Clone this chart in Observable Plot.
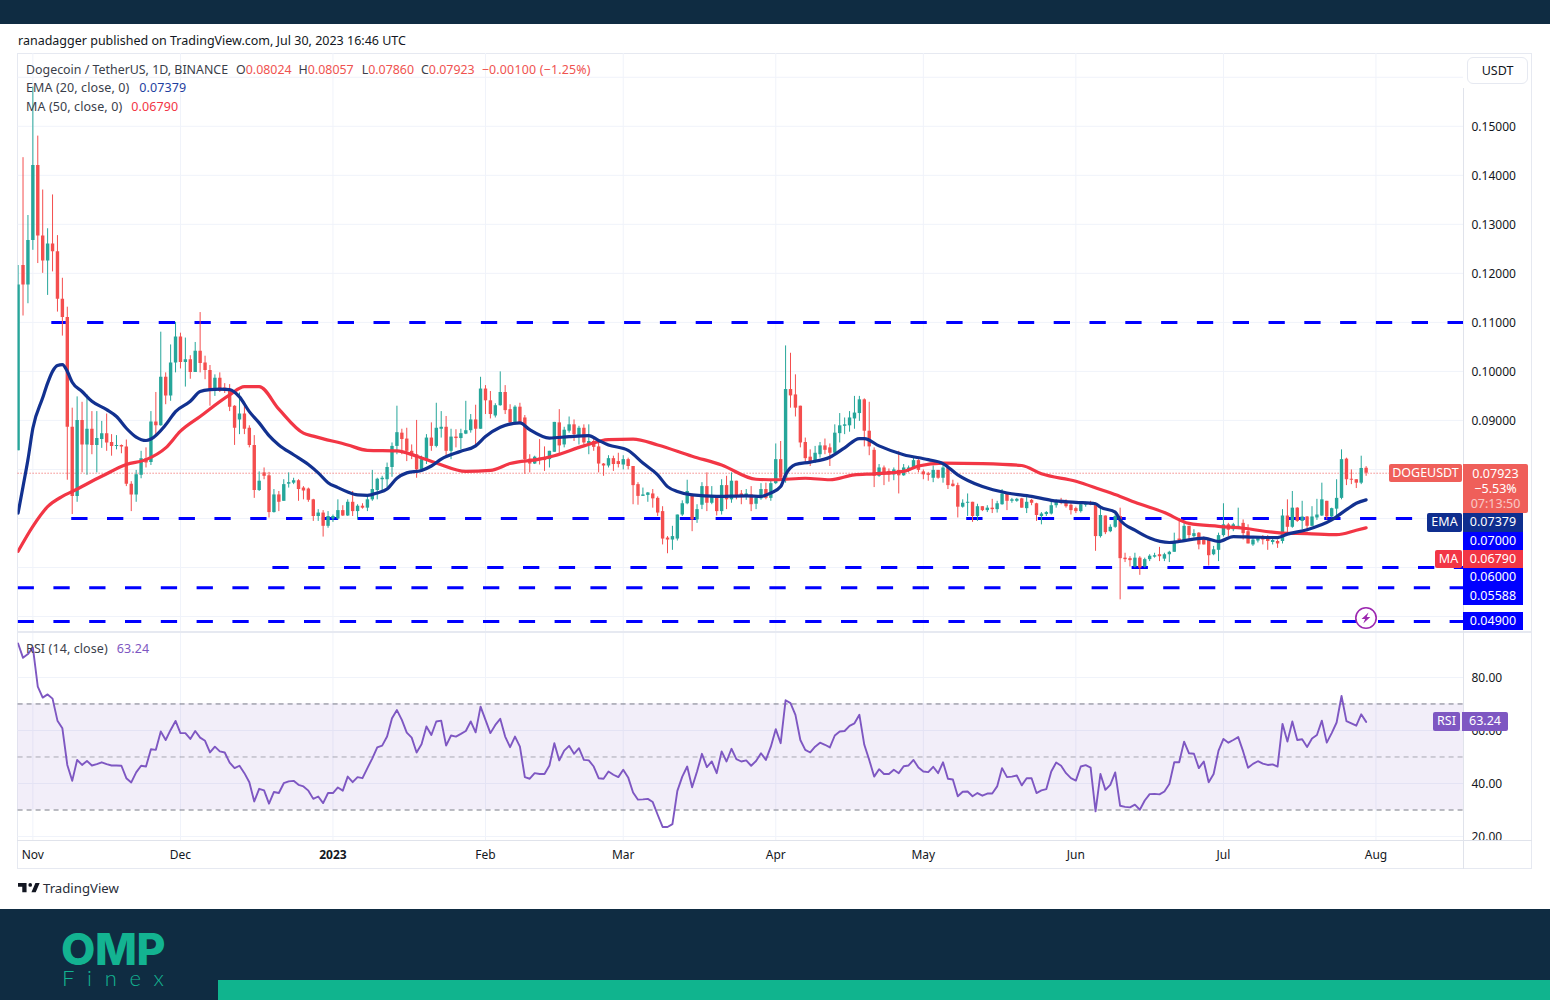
<!DOCTYPE html>
<html><head><meta charset="utf-8">
<script src="https://cdn.jsdelivr.net/npm/d3@7"></script>
<script src="https://cdn.jsdelivr.net/npm/@observablehq/plot@0.6"></script>
<style>
html,body{margin:0;padding:0;background:#fff}
#page{position:relative;width:1550px;height:1000px;overflow:hidden;background:#fff;font-family:"Noto Sans",sans-serif;color:#131722}
.abs{position:absolute;white-space:nowrap}
.tag{position:absolute;color:#fff;font-size:12.5px;line-height:1;display:flex;align-items:center;justify-content:center;white-space:nowrap}
.leg{position:absolute;left:26px;font-size:12.5px;letter-spacing:.1px;line-height:16px;white-space:nowrap;color:#3a3e4a}
.leg span{margin-left:7px}
.r{color:#ef5350}
.leg span.n{margin-left:0}
svg{display:block}
#price,#rsi,#time{position:absolute;left:0}
</style></head>
<body><div id="page">
<div class="abs" style="left:0;top:0;width:1550px;height:24px;background:#0f2c42"></div>
<div class="abs" style="left:18px;top:33px;font-size:12.5px;line-height:16px" id="pub">ranadagger published on TradingView.com, Jul 30, 2023 16:46 UTC</div>
<div class="abs" style="left:17px;top:53px;width:1515px;height:816px;border:1px solid #e6e9f1;box-sizing:border-box"></div>
<div id="price" style="top:53px"></div>
<div id="rsi" style="top:632px"></div>
<div id="time" style="top:841px"></div>
<div class="abs" style="left:17px;top:631px;width:1515px;height:2px;background:#e6e9f1"></div>
<div class="abs" style="left:17px;top:840px;width:1515px;height:1px;background:#e0e3eb"></div>
<div class="abs" style="left:1463px;top:88px;width:1px;height:781px;background:#e0e3eb"></div>
<div class="abs" style="left:1467px;top:57px;width:61px;height:27px;border:1px solid #e6e9f1;border-radius:6px;box-sizing:border-box;font-size:12.5px;line-height:25px;text-align:center;background:#fff">USDT</div>
<div class="leg" style="top:62px;font-size:12.4px;letter-spacing:0">Dogecoin / TetherUS, 1D, BINANCE<span style="margin-left:8px">O</span><span class="r n">0.08024</span><span style="margin-left:7px">H</span><span class="r n">0.08057</span><span style="margin-left:8px">L</span><span class="r n">0.07860</span><span style="margin-left:7px">C</span><span class="r n">0.07923</span><span class="r" style="margin-left:7px;letter-spacing:.2px">−0.00100 (−1.25%)</span></div>
<div class="leg" style="top:80px">EMA (20, close, 0)<span style="color:#1f3f9f;margin-left:10px">0.07379</span></div>
<div class="leg" style="top:99px">MA (50, close, 0)<span style="color:#f23645;margin-left:9px">0.06790</span></div>
<div class="leg" style="top:641px">RSI (14, close)<span style="color:#7e57c2;margin-left:9px">63.24</span></div>

<div class="tag" style="left:1389px;top:464px;width:73px;height:18px;background:#ef5f5a;border-radius:2px">DOGEUSDT</div>
<div class="tag" style="left:1463px;top:464px;width:65px;height:49px;background:#ef5f5a;border-radius:0 2px 2px 0;flex-direction:column;line-height:15px"><span>0.07923</span><span>−5.53%</span><span style="opacity:.65">07:13:50</span></div>
<div class="tag" style="left:1427px;top:513px;width:35px;height:19px;background:#0f2e8f;border-radius:2px">EMA</div>
<div class="tag" style="left:1463px;top:513px;width:60px;height:19px;background:#0f2e8f">0.07379</div>
<div class="tag" style="left:1463px;top:532px;width:60px;height:18px;background:#0000ff">0.07000</div>
<div class="tag" style="left:1435px;top:550px;width:27px;height:18px;background:#f23645;border-radius:2px">MA</div>
<div class="tag" style="left:1463px;top:550px;width:60px;height:18px;background:#f23645">0.06790</div>
<div class="tag" style="left:1463px;top:568px;width:60px;height:19px;background:#0000ff">0.06000</div>
<div class="tag" style="left:1463px;top:587px;width:60px;height:18px;background:#0000ff">0.05588</div>
<div class="tag" style="left:1463px;top:612px;width:60px;height:18px;background:#0000ff">0.04900</div>
<div class="tag" style="left:1433px;top:712px;width:27px;height:19px;background:#7e57c2;border-radius:2px">RSI</div>
<div class="tag" style="left:1462px;top:712px;width:46px;height:19px;background:#7e57c2;border-radius:0 2px 2px 0">63.24</div>

<svg class="abs" style="left:1354px;top:606px" width="24" height="24" viewBox="0 0 24 24"><circle cx="12" cy="12" r="10.2" fill="#fff" stroke="#9c27b0" stroke-width="1.6"/><path d="M14.5 6.5 7.5 13h3.6l-1.8 4.5 7-6.5h-3.6z" fill="#9c27b0"/></svg>

<svg class="abs" style="left:18px;top:882px" width="22" height="12" viewBox="0 6 36 16"><path fill="#131722" d="M14 6H0v6h7v9h7V6zm15 15h-7l6.5-15h7L29 21zm-9-9a3 3 0 100-6 3 3 0 000 6z"/></svg>
<div class="abs" style="left:43px;top:879px;font-size:13.2px;line-height:18px;color:#2a2e39">TradingView</div>

<div class="abs" style="left:0;top:909px;width:1550px;height:91px;background:#0f2c42"></div>
<div class="abs" style="left:218px;top:980px;width:1332px;height:20px;background:#10b48e"></div>
<div class="abs" style="left:61px;top:925px;font-family:Inter,sans-serif;font-weight:800;font-size:44.5px;line-height:48px;color:#13b391;letter-spacing:-.5px">OMP</div>
<div class="abs" style="left:62px;top:964px;font-family:Lato,sans-serif;font-weight:300;font-size:22px;line-height:28px;color:#13b391;letter-spacing:12.7px">Finex</div>
</div>
<script>
const FONT='"Noto Sans",sans-serif';
const opens=[.0838,.1216,.1176,.1267,.142,.1276,.1225,.126,.1244,.1147,
.111,.0886,.0745,.09,.085,.0882,.0849,.0861,.0873,.0855,
.0847,.0849,.0846,.077,.0748,.0788,.0822,.0814,.0897,.0889,
.0988,.095,.1017,.107,.1018,.1024,.0998,.1041,.1017,.1002,
.0959,.0986,.0966,.0963,.0929,.0901,.0913,.0884,.0849,.0757,
.0793,.0787,.0712,.0748,.0735,.077,.0772,.0777,.0762,.076,
.0738,.0704,.0711,.0684,.0699,.0699,.0716,.0705,.0733,.0714,
.0725,.0721,.0738,.0757,.0779,.0779,.0804,.0847,.0874,.0862,
.0837,.083,.0799,.082,.0864,.0847,.0882,.0886,.0837,.0866,
.0863,.0872,.0879,.0901,.0882,.0964,.094,.0909,.093,.0957,
.0922,.0896,.0927,.0905,.0821,.0811,.0823,.0821,.082,.0835,
.0895,.085,.0878,.0891,.0869,.0884,.0852,.0857,.0846,.0811,
.0807,.0822,.0816,.0809,.082,.0806,.0769,.0745,.0747,.075,
.0741,.0714,.066,.0656,.0658,.0707,.073,.0748,.0697,.0727,
.0765,.0731,.0746,.0714,.0767,.0738,.0776,.075,.0745,.0748,
.0729,.074,.0759,.0741,.0771,.082,.0782,.0963,.0952,.0929,
.0855,.0825,.0814,.083,.0848,.0844,.0833,.0873,.0888,.0889,
.0903,.0914,.0942,.0878,.0839,.0786,.0803,.0796,.0789,.0798,
.0787,.0796,.0803,.0818,.0795,.0791,.0782,.0798,.0782,.0803,
.077,.0767,.0723,.0731,.0733,.0704,.0724,.0716,.0721,.0718,
.0728,.075,.0735,.0735,.074,.072,.0737,.073,.0704,.0708,
.0709,.0726,.0736,.0733,.0727,.072,.0714,.0727,.0731,.0727,
.0663,.0705,.0673,.0682,.0704,.0619,.0618,.0601,.0619,.0601,
.0616,.0621,.0626,.0617,.0626,.0631,.0658,.0653,.0684,.0663,
.067,.0658,.0656,.0626,.0635,.0665,.0687,.0677,.0682,.069,
.0673,.0646,.0654,.0662,.0663,.0651,.0653,.0653,.0705,.0682,
.0721,.0694,.0703,.0684,.0701,.0705,.0735,.0703,.0719,.0741,
.0821,.078,.0779,.0772,.08024];
const highs=[.1216,.1436,.1318,.158,.148,.137,.1291,.136,.1277,.119,
.1131,.0925,.0948,.0937,.0952,.0918,.0918,.0898,.0913,.0871,
.0869,.085,.086,.0775,.0798,.0837,.0844,.0918,.0957,.108,
.0997,.1054,.11,.1078,.1068,.1032,.1059,.112,.1031,.1012,
.0993,.0997,.0975,.0973,.093,.0956,.0929,.0889,.0869,.0795,
.0803,.0794,.0759,.0755,.0779,.0793,.0782,.0779,.0765,.0762,
.0739,.0718,.0716,.0714,.0707,.0738,.0726,.0738,.0755,.0728,
.073,.0745,.0798,.0782,.0786,.0813,.0854,.0929,.0882,.0884,
.085,.09,.0827,.0871,.0895,.0935,.0918,.0908,.0882,.0881,
.0882,.0939,.0912,.0931,.0988,.0971,.0959,.0934,.0999,.0971,
.0932,.093,.0935,.091,.083,.0827,.0861,.0846,.0837,.0896,
.0922,.0886,.0907,.0901,.0888,.0891,.0891,.0866,.0854,.0812,
.0828,.0827,.0833,.0828,.0823,.0806,.0773,.0762,.0753,.0759,
.0744,.0724,.0663,.0684,.0707,.0736,.0778,.075,.0728,.0773,
.0793,.0765,.0746,.0779,.0786,.0793,.0776,.0757,.0759,.0765,
.0745,.0771,.0772,.0779,.0852,.0857,.1052,.1037,.0993,.0929,
.0864,.084,.0847,.0855,.0862,.0852,.0891,.0914,.0905,.0918,
.0949,.0949,.0944,.0937,.0844,.081,.0807,.0801,.0803,.0837,
.081,.0807,.0823,.082,.0799,.0794,.0807,.0798,.0814,.0803,
.0778,.0772,.0738,.075,.0733,.0729,.0724,.0726,.0739,.0735,
.0759,.0752,.0741,.0741,.0741,.0744,.0739,.0731,.0712,.0714,
.0738,.0738,.0741,.0738,.073,.0723,.0733,.0733,.0735,.0731,
.0721,.0705,.0687,.0714,.0721,.0629,.0622,.0629,.0622,.0619,
.0626,.0629,.0641,.0629,.0633,.067,.07,.069,.0684,.0677,
.0671,.0662,.066,.0643,.067,.073,.069,.069,.0721,.0697,
.0687,.066,.0663,.0665,.0665,.066,.0656,.0718,.0738,.0755,
.0722,.0735,.0704,.0724,.0739,.0772,.0735,.0721,.0779,.084,
.0823,.0799,.0779,.0827,.08057];
const lows=[.0838,.1113,.1138,.1247,.122,.12,.1155,.1203,.1121,.1072,
.0778,.0708,.0733,.0793,.0788,.083,.0793,.0843,.0837,.0827,
.084,.0832,.0765,.0714,.0733,.0781,.0803,.0808,.0871,.0888,
.0932,.0939,.0997,.1005,.0968,.0984,.0998,.0997,.0983,.0929,
.0949,.0957,.0955,.0918,.0849,.0871,.0871,.0844,.0741,.0755,
.0779,.0701,.0711,.0714,.0735,.0762,.0769,.0735,.0738,.0733,
.0694,.0694,.0662,.068,.0692,.0697,.0704,.0704,.0704,.0697,
.0719,.0714,.0735,.0738,.0755,.0762,.0784,.083,.083,.0816,
.082,.0782,.0796,.081,.0837,.0844,.0864,.0823,.082,.0844,
.084,.0871,.0874,.0847,.0882,.0912,.0903,.0905,.0929,.0912,
.0891,.0895,.0891,.079,.0793,.081,.0809,.0796,.0803,.0835,
.083,.0844,.0874,.0857,.085,.085,.083,.0837,.0793,.0786,
.0803,.0796,.0803,.0799,.0799,.0728,.0727,.0745,.0733,.0721,
.0704,.0646,.0628,.0635,.0654,.0704,.0728,.0673,.069,.0718,
.0714,.0728,.0705,.0707,.0718,.0731,.0738,.0728,.0737,.0714,
.0718,.0737,.0738,.0735,.0769,.0778,.0772,.0925,.0907,.0844,
.0814,.0806,.0812,.0823,.083,.0806,.083,.0854,.0871,.0876,
.0882,.0898,.0846,.0828,.0763,.0784,.0767,.0774,.0777,.075,
.0786,.0793,.0801,.0793,.0779,.0776,.0773,.078,.0772,.0759,
.0764,.0701,.0721,.0704,.0692,.0694,.0714,.0712,.071,.0711,
.0727,.0716,.0731,.0733,.0721,.071,.0726,.0694,.0687,.0704,
.0707,.0721,.0728,.0721,.0707,.071,.0711,.0723,.0726,.0633,
.066,.0667,.0671,.068,.0534,.061,.0601,.0599,.0584,.0599,
.0612,.0619,.0612,.0612,.061,.0631,.0653,.0653,.0653,.066,
.0636,.0646,.0603,.0624,.0612,.0662,.0663,.0673,.068,.0656,
.0648,.0643,.065,.0646,.0635,.0646,.0639,.0648,.067,.068,
.0692,.0677,.0673,.0684,.0696,.0704,.0697,.0701,.0704,.0738,
.0767,.0769,.0761,.0769,.0786];
const closes=[.1176,.1176,.1267,.142,.1276,.1225,.126,.1244,.1147,.111,
.0886,.0745,.09,.085,.0882,.0849,.0863,.0873,.0854,.0847,
.0849,.0846,.077,.0748,.0789,.0822,.0813,.0897,.0889,.0988,
.095,.1017,.107,.1018,.1024,.0998,.1041,.1016,.1002,.0959,
.0986,.0959,.0961,.0927,.0884,.0913,.0882,.0849,.0757,.0776,
.0786,.0712,.0748,.0733,.0769,.0773,.0777,.0759,.0756,.0737,
.0704,.0711,.0684,.0704,.0704,.0716,.0705,.0733,.0714,.0725,
.0721,.0738,.0759,.078,.0782,.0804,.0847,.0875,.0861,.0837,
.083,.0799,.082,.0864,.0847,.0884,.0886,.0837,.0866,.0863,
.0873,.0879,.0901,.0882,.0964,.094,.0912,.093,.0957,.092,
.0895,.0927,.0895,.082,.0811,.0825,.0818,.0818,.0837,.0896,
.0848,.088,.0891,.0871,.0884,.0854,.0857,.0845,.0811,.0807,
.0822,.081,.081,.082,.0806,.0767,.0745,.0748,.0752,.074,
.0711,.0658,.0656,.0663,.0707,.073,.0755,.0697,.0718,.0765,
.0731,.0745,.0714,.0767,.0738,.0776,.0745,.0744,.075,.0728,
.0741,.0759,.0741,.0771,.082,.0782,.0963,.095,.0925,.0854,
.0822,.0813,.0833,.0848,.0839,.0833,.0874,.0889,.0891,.0905,
.0915,.0942,.0878,.0846,.0786,.0803,.0789,.0789,.0799,.0787,
.0803,.0803,.0818,.0798,.0789,.0788,.0798,.0782,.0803,.0767,
.0765,.0723,.0731,.0733,.0704,.0724,.0716,.0721,.0718,.073,
.075,.0735,.0738,.0739,.0721,.0733,.0731,.0706,.0709,.0712,
.0726,.0735,.0731,.0724,.0716,.0714,.0728,.0731,.0727,.0663,
.0706,.0671,.0682,.0704,.0618,.0616,.0614,.0619,.0599,.0616,
.0623,.0624,.0622,.0626,.0631,.0651,.0653,.0684,.0665,.0669,
.0646,.0646,.0624,.0636,.0665,.0687,.0676,.0687,.0684,.0669,
.0648,.0656,.0659,.0656,.0653,.0655,.0648,.0705,.0682,.0721,
.0694,.0703,.0684,.0703,.0707,.0738,.0703,.072,.0741,.082,
.0779,.0778,.0772,.0802,.07923];
const rsi=[92.8,87.4,88.8,91.3,76.5,72.4,73.6,72,63.7,60.8,
47,41,48.9,47,48.5,46.8,47.3,48,47.3,46.8,
46.8,46.7,42,40.4,44.2,46.7,46.4,52.9,52.7,59.6,
56.4,60.2,63.6,59,59,56.8,59.8,57.3,56.1,51.7,
53.9,52.1,51.7,47.9,45.8,46.7,43.9,40.5,33.2,38,
37.4,32.4,36.8,36.4,40.1,40.8,41,39.5,38.9,37.3,
34.2,35.1,32.6,36.4,36.4,38.5,37.3,42.6,40.5,42.4,
42,45.8,49.5,53.6,54.3,57.7,64.6,67.7,64,59.2,
57.3,51.7,54.8,61.5,58.3,63.4,63.7,54.3,58.1,57.7,
58.7,59.8,63.4,59.3,69,64,59,62.1,64.4,57.7,
53.7,57.7,53.9,42.4,41.8,43.9,43.6,43.6,46.8,55.2,
48.7,52.4,54.2,51.2,53.3,48.9,48.7,46.4,42,41.8,
44.5,43.3,42.4,45.2,42.3,36.6,33.9,34,34.2,33,
28.2,23.6,23.6,24.7,37.2,42.6,46.4,38.6,44.5,51.2,
46.2,48.3,43.9,52.1,48.3,53.1,49.2,48.3,48.7,46.7,
48.5,51.4,48.9,53.9,60.5,55.2,71.4,70.3,65.9,56.4,
52.7,51.7,53.9,55.4,54.6,53.6,58.1,59.6,59.8,61.7,
62.7,65.9,54.6,48.9,42.6,45.4,43.6,43.6,45.2,43.9,
46.5,46.8,48.9,46,44.5,44.3,46.3,43.9,48,41.8,
41.5,35.2,36.9,37,35.2,36.4,35.4,36.2,36.2,38.9,
45.8,42.4,42.6,43,39.3,42,42,36.4,37.4,37.9,
44.5,47.9,46.7,43.9,42,41.1,46.4,46.9,46,29.5,
43.6,37.6,39.5,44.2,31.6,31.2,31,32,30.1,33.6,
36,36.1,35.9,37,39.8,48,48,55.8,51.4,51.2,
45.8,48.3,40.5,43.6,52.4,56.8,55.4,56.4,57.5,52.1,
45.9,47.4,48.4,47.5,47,47.2,46.4,62.5,55.8,63.4,
56.4,56.7,53.8,57,58.3,63.7,55.4,59,63,73,
63.5,62.7,61.8,66.1,63.24];
const emaDay=[0,1,2,3,5,6,7,8,9,10,11,13,15,18,20,22,24,26,27,30,32,35,37,39,41,43,45,47,49,51,53,56,59,61,63,65,67,69,71,73,75,77,79,82,84,86,90,93,95,98,102,104,108,112,116,118,120,124,127,130,132,134,137,142,148,151,153,155,156,158,161,165,168,171,172,175,180,185,188,191,196,201,206,210,215,219,220,223,224,227,230,234,236,241,244,247,251,256,258,262,267,270,272,274];
const emaVal=[.0711,.0765,.082,.0884,.0946,.0976,.1,.1012,.1014,.1,.0978,.0959,.0939,.0922,.0908,.0884,.0866,.0859,.0862,.0891,.0918,.0939,.0959,.0963,.0964,.0963,.0948,.0918,.0895,.0869,.085,.083,.081,.0793,.0773,.0763,.0754,.0748,.0747,.0752,.076,.0782,.0793,.0798,.0807,.0821,.0837,.0848,.0867,.0886,.0895,.0881,.0864,.0867,.0869,.0859,.085,.0839,.0813,.0789,.0765,.0755,.0748,.0745,.0746,.0745,.0752,.0765,.0789,.081,.0815,.0825,.0844,.0863,.0863,.0848,.083,.082,.0812,.0789,.0765,.0752,.0745,.0737,.0733,.073,.0723,.0713,.0697,.0676,.066,.0651,.0653,.066,.0653,.0663,.0662,.0661,.0668,.0677,.0697,.0718,.0731,.07379];
const maDay=[0,3,6,9,11,17,22,26,30,33,37,43,46,49,53,58,60,67,71,77,81,85,91,96,100,106,109,115,120,125,130,137,143,150,154,160,165,170,174,180,183,188,196,204,208,215,220,224,227,233,238,244,249,257,262,268,272,274];
const maVal=[.0633,.0684,.0724,.0745,.0755,.0786,.081,.082,.0844,.0878,.0908,.0952,.0969,.0969,.0923,.0874,.0868,.085,.0839,.0838,.0827,.0813,.0796,.0798,.0812,.0821,.0828,.0848,.0861,.0862,.085,.0827,.0809,.078,.0779,.0782,.0779,.0789,.0791,.0796,.0807,.0813,.0812,.0808,.0791,.0776,.0759,.0745,.0733,.0712,.069,.0684,.068,.067,.0669,.0667,.0676,.0681];
const monthLabels=["Nov","Dec","2023","Feb","Mar","Apr","May","Jun","Jul","Aug"];
const monthStarts=["2022-11-01","2022-12-01","2023-01-01","2023-02-01","2023-03-01","2023-04-01","2023-05-01","2023-06-01","2023-07-01","2023-08-01"];
const priceTicks=[.15,.14,.13,.12,.11,.1,.09,.08,.07,.06,.05];
const priceGrid=[.16,.15,.14,.13,.12,.11,.1,.09,.08,.07,.06,.05];
const rsiTicks=[80,60,40,20];
const levelValues=[.11,.07,.06,.05588,.049];
const levelStarts=["2022-11-04T20:24Z","2022-11-08T21:36Z","2022-12-19T19:00Z","2022-10-29T00:00Z","2022-10-29T00:00Z"];
const lastClose=.07923;
const GREEN="#26a69a",RED="#f44e4e",NAVY="#123190",MAC="#f23645",PURPLE="#7e57c2",GRID="#f0f3fa";
const dayDate=i=>new Date(Date.UTC(2022,9,29+i));
const xDomain=[new Date("2022-10-29T00:00Z"),new Date("2023-08-18T19:00Z")];
const months=monthStarts.map(s=>new Date(s+"T00:00Z"));
const candles=opens.map((o,i)=>({date:dayDate(i),o,h:highs[i],l:lows[i],c:closes[i]}));
const up=candles.filter(d=>d.c>=d.o),down=candles.filter(d=>d.c<d.o);
const ema=emaDay.map((d,i)=>({date:dayDate(d),v:emaVal[i]}));
const ma=maDay.map((d,i)=>({date:dayDate(d),v:maVal[i]}));
const rsiLine=rsi.map((v,i)=>({date:dayDate(i),v}));
const levels=levelValues.map((v,i)=>({v,start:new Date(levelStarts[i]),end:xDomain[1]}));
const base={width:1550,marginLeft:17.6,marginRight:87,marginTop:0,marginBottom:0,
  style:{background:"transparent",fontFamily:FONT,fontSize:"12px",color:"#131722"}};
const wick=(rows,col)=>Plot.ruleX(rows,{x:"date",y1:"l",y2:"h",stroke:col,strokeWidth:1,clip:true});
const body=(rows,col)=>Plot.ruleX(rows,{x:"date",y1:"o",y2:"c",stroke:col,strokeWidth:3.4,clip:true});
document.getElementById("price").append(Plot.plot({...base,height:578,
  x:{type:"utc",domain:xDomain,axis:null},
  y:{domain:[.04694,.16485],axis:null},
  marks:[
    Plot.gridY(priceGrid,{stroke:GRID,strokeOpacity:1}),
    Plot.ruleX(months,{stroke:GRID,strokeOpacity:1}),
    Plot.ruleY(levels,{y:"v",x1:"start",x2:"end",stroke:"#0000ff",strokeWidth:3,strokeDasharray:"16.3,19.5",clip:true}),
    Plot.ruleY([lastClose],{stroke:"#ef5350",strokeWidth:1,strokeDasharray:"1,2"}),
    wick(up,GREEN),wick(down,RED),body(up,GREEN),body(down,RED),
    Plot.line(ma,{x:"date",y:"v",stroke:MAC,strokeWidth:3.2,curve:"monotone-x",clip:true}),
    Plot.line(ema,{x:"date",y:"v",stroke:NAVY,strokeWidth:3.2,curve:"monotone-x",clip:true}),
    Plot.axisY({anchor:"right",ticks:priceTicks,tickSize:0,tickPadding:8,dy:1,tickFormat:d3.format(".5f"),label:null})
  ]}));
document.getElementById("rsi").append(Plot.plot({...base,height:208,
  x:{type:"utc",domain:xDomain,axis:null},
  y:{domain:[18.5,96.95],axis:null},
  marks:[
    Plot.gridY(rsiTicks,{stroke:GRID,strokeOpacity:1}),
    Plot.ruleX(months,{stroke:GRID,strokeOpacity:1}),
    Plot.rect([{a:xDomain[0],b:xDomain[1],lo:30,hi:70}],{x1:"a",x2:"b",y1:"lo",y2:"hi",fill:PURPLE,fillOpacity:.1}),
    Plot.ruleY([70,30],{stroke:"#787b86",strokeWidth:1,strokeDasharray:"5,4"}),
    Plot.ruleY([50],{stroke:"#787b86",strokeOpacity:.6,strokeWidth:1,strokeDasharray:"5,4"}),
    Plot.line(rsiLine,{x:"date",y:"v",stroke:PURPLE,strokeWidth:1.9,clip:true}),
    Plot.axisY({anchor:"right",ticks:rsiTicks,tickSize:0,tickPadding:8,dy:1,tickFormat:d3.format(".2f"),label:null})
  ]}));
const labelOf=d=>monthLabels[months.findIndex(m=>+m===+d)];
document.getElementById("time").append(Plot.plot({...base,height:27,marginBottom:27,
  x:{type:"utc",domain:xDomain,axis:null},
  marks:[
    Plot.axisX(months.filter(m=>labelOf(m)!=="2023"),{anchor:"bottom",tickSize:0,tickPadding:9,tickFormat:labelOf,label:null}),
    Plot.axisX(months.filter(m=>labelOf(m)==="2023"),{anchor:"bottom",tickSize:0,tickPadding:9,tickFormat:labelOf,label:null,fontWeight:700})
  ]}));
</script></body></html>
